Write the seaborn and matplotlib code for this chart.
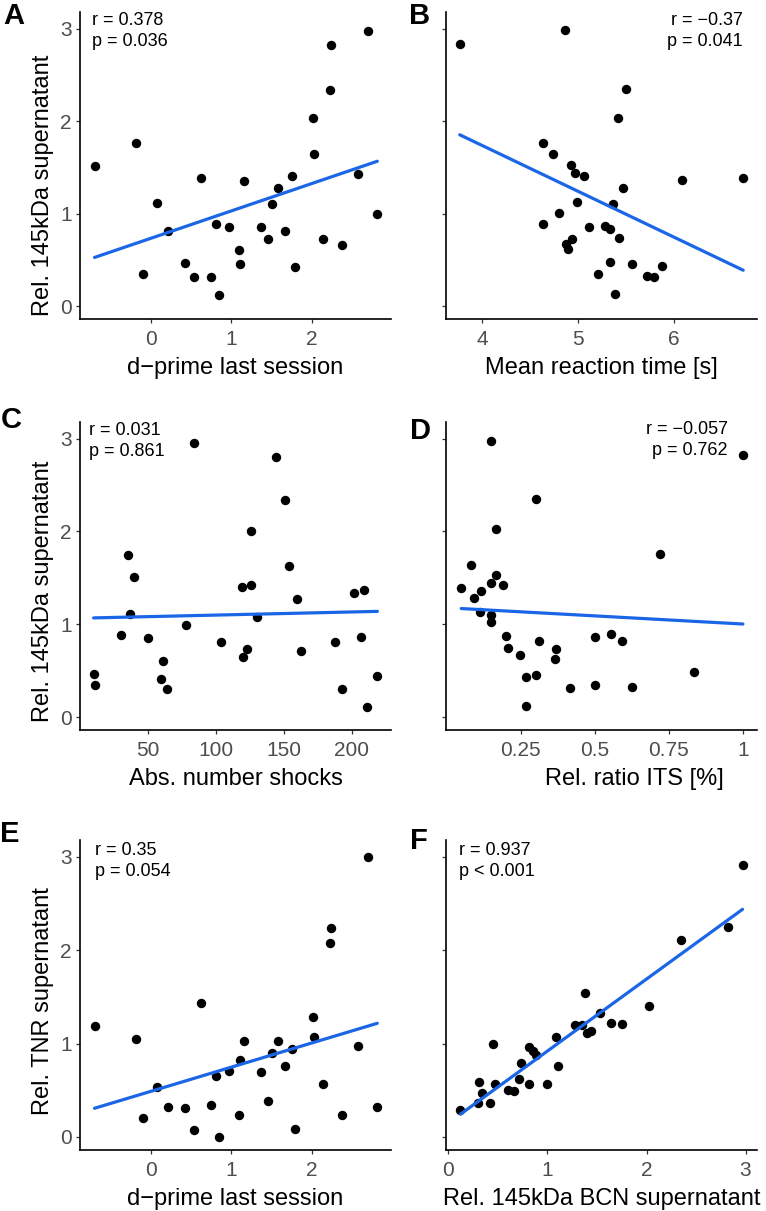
import matplotlib
matplotlib.use("Agg")
import matplotlib.pyplot as plt
import seaborn as sns

# A / E : d-prime last session
dprime = [-0.70, -0.19, -0.10, 0.08, 0.21, 0.42, 0.53, 0.62, 0.74, 0.81, 0.85,
          0.97, 1.09, 1.10, 1.15, 1.37, 1.45, 1.50, 1.58, 1.67, 1.75, 1.79,
          2.01, 2.03, 2.13, 2.22, 2.24, 2.37, 2.57, 2.69, 2.81]
sup145_a = [1.52, 1.76, 0.35, 1.11, 0.81, 0.47, 0.31, 1.38, 0.31, 0.89, 0.12,
            0.85, 0.61, 0.45, 1.35, 0.86, 0.72, 1.10, 1.28, 0.81, 1.41, 0.42,
            2.03, 1.64, 0.73, 2.34, 2.82, 0.66, 1.43, 2.97, 1.00]
tnr_e = [1.19, 1.05, 0.20, 0.54, 0.32, 0.31, 0.07, 1.43, 0.34, 0.65, 0.00,
         0.71, 0.24, 0.82, 1.03, 0.70, 0.38, 0.90, 1.03, 0.76, 0.94, 0.08,
         1.28, 1.07, 0.57, 2.08, 2.24, 0.23, 0.97, 3.00, 0.32]

# B : mean reaction time
reaction_time = [3.77, 4.87, 5.50, 5.42, 4.64, 4.74, 4.93, 4.97, 5.06, 6.08,
                 6.72, 5.47, 4.99, 5.36, 4.80, 4.64, 5.12, 5.28, 5.33, 5.43,
                 4.94, 4.88, 4.90, 5.33, 5.56, 5.88, 5.21, 5.72, 5.79, 5.39]
sup145_b = [2.83, 2.98, 2.35, 2.03, 1.76, 1.64, 1.53, 1.44, 1.41, 1.36,
            1.39, 1.28, 1.12, 1.10, 1.01, 0.89, 0.86, 0.87, 0.83, 0.74,
            0.73, 0.67, 0.62, 0.48, 0.45, 0.43, 0.35, 0.32, 0.31, 0.13]

# C : number of shocks
shocks = [10, 11, 30, 35, 37, 40, 50, 60, 61, 64, 78, 84, 104, 119, 120, 123,
          126, 126, 130, 144, 151, 154, 160, 163, 188, 193, 202, 207, 209, 211, 219]
sup145_c = [0.46, 0.34, 0.88, 1.75, 1.11, 1.51, 0.85, 0.41, 0.60, 0.30, 0.99,
            2.95, 0.81, 1.40, 0.65, 0.73, 2.01, 1.42, 1.08, 2.80, 2.34, 1.63,
            1.27, 0.71, 0.81, 0.30, 1.34, 0.86, 1.37, 0.11, 0.44]

# D : ratio ITS
its_ratio = [0.049, 0.083, 0.092, 0.116, 0.111, 0.149, 0.149, 0.149, 0.149,
             0.167, 0.167, 0.191, 0.201, 0.208, 0.249, 0.267, 0.267, 0.301,
             0.301, 0.312, 0.367, 0.370, 0.417, 0.499, 0.499, 0.556, 0.592,
             0.625, 0.721, 0.834, 1.000]
sup145_d = [1.39, 1.64, 1.28, 1.36, 1.13, 2.98, 1.44, 1.10, 1.02, 2.03, 1.53,
            1.42, 0.87, 0.74, 0.67, 0.43, 0.12, 2.35, 0.45, 0.82, 0.62, 0.73,
            0.31, 0.86, 0.35, 0.89, 0.82, 0.32, 1.76, 0.48, 2.82]

# F : BCN vs TNR
bcn145_f = [0.12, 0.31, 0.30, 0.34, 0.42, 0.45, 0.47, 0.60, 0.66, 0.71, 0.73,
            0.81, 0.81, 0.85, 0.88, 1.00, 1.09, 1.11, 1.28, 1.35, 1.38, 1.40,
            1.44, 1.53, 1.64, 1.75, 2.03, 2.35, 2.82, 2.97]
tnr_f = [0.29, 0.59, 0.36, 0.47, 0.36, 1.00, 0.57, 0.50, 0.49, 0.62, 0.79,
         0.57, 0.96, 0.92, 0.88, 0.57, 1.07, 0.76, 1.20, 1.20, 1.54, 1.11,
         1.13, 1.33, 1.22, 1.21, 1.40, 2.11, 2.25, 2.91]

sns.set_theme(style="ticks")
plt.rcParams['font.family'] = ['Liberation Sans', 'DejaVu Sans']

W, H = 766, 1211
fig = plt.figure(figsize=(W / 100, H / 100), dpi=100)
blue = "#1a66e6"


def px(x, y):
    return x / W, 1 - y / H


def panel(box, x, y, xlim, xticks, xticklabels, xlabel, ylabel, letter, letter_xy,
          stats, stats_xy, stats_ha, xlabel_x=0.5, ylabel_y=0.5):
    l, t, r, b = box
    ax = fig.add_axes([l / W, 1 - b / H, (r - l) / W, (b - t) / H])
    sns.regplot(x=x, y=y, ax=ax, ci=None,
                scatter_kws=dict(s=46, color="black", linewidths=0, alpha=1, zorder=2),
                line_kws=dict(color=blue, lw=2.3, zorder=3))
    ax.set_xlim(xlim)
    ax.set_ylim(-0.14, 3.18)
    ax.set_xticks(xticks)
    ax.set_xticklabels(xticklabels)
    ax.set_yticks([0, 1, 2, 3])
    sns.despine(ax=ax)
    for s in ["left", "bottom"]:
        ax.spines[s].set_linewidth(1.2)
        ax.spines[s].set_color("black")
    ax.tick_params(length=3, width=0.9, color="#333333", labelsize=15,
                   labelcolor="#4d4d4d")
    ax.tick_params(axis="x", pad=5)
    ax.tick_params(axis="y", pad=3)
    ax.set_xlabel(xlabel, fontsize=17, color="black", va="center")
    ax.xaxis.set_label_coords(xlabel_x, -49 / (b - t))
    if ylabel:
        ax.set_ylabel(ylabel, fontsize=17, color="black", va="center")
        ax.yaxis.set_label_coords(-37 / (r - l), ylabel_y)
    else:
        ax.set_ylabel("")
        ax.tick_params(axis="y", labelleft=False)
    fig.text(*px(*letter_xy), letter, fontsize=21, fontweight="bold",
             color="black", ha="left", va="center")
    fig.text(*px(*stats_xy), stats, fontsize=13, color="black", ha=stats_ha,
             va="center", multialignment=stats_ha, linespacing=1.25)
    return ax


panel((80, 12, 391, 319), dprime, sup145_a, (-0.88, 2.98), [0, 1, 2], ["0", "1", "2"],
      "d\u2212prime last session", "Rel. 145kDa supernatant", "A", (3, 16),
      "r = 0.378\np = 0.036", (92, 31), "left", ylabel_y=0.435)
panel((446, 12, 757, 319), reaction_time, sup145_b, (3.627, 6.864), [4, 5, 6],
      ["4", "5", "6"], "Mean reaction time [s]", None, "B", (409, 16),
      "r = \u22120.37\np = 0.041", (743, 31), "right")
panel((80, 422, 391, 730), shocks, sup145_c, (0, 229), [50, 100, 150, 200],
      ["50", "100", "150", "200"], "Abs. number shocks", "Rel. 145kDa supernatant",
      "C", (1, 420), "r = 0.031\np = 0.861", (89, 441), "left", ylabel_y=0.45)
panel((446, 422, 757, 730), its_ratio, sup145_d, (-0.0025, 1.0475),
      [0.25, 0.5, 0.75, 1], ["0.25", "0.5", "0.75", "1"], "Rel. ratio ITS [%]", None,
      "D", (410, 431), "r = \u22120.057\np = 0.762", (728, 440), "right",
      xlabel_x=0.605)
panel((80, 840, 391, 1150), dprime, tnr_e, (-0.88, 2.98), [0, 1, 2], ["0", "1", "2"],
      "d\u2212prime last session", "Rel. TNR supernatant", "E", (0, 834),
      "r = 0.35\np = 0.054", (95, 861), "left", ylabel_y=0.48)
panel((446, 840, 757, 1150), bcn145_f, tnr_f, (-0.025, 3.116), [0, 1, 2, 3],
      ["0", "1", "2", "3"], "Rel. 145kDa BCN supernatant", None, "F", (410, 841),
      "r = 0.937\np < 0.001", (459, 861), "left")

fig.savefig("out.png", dpi=100)
